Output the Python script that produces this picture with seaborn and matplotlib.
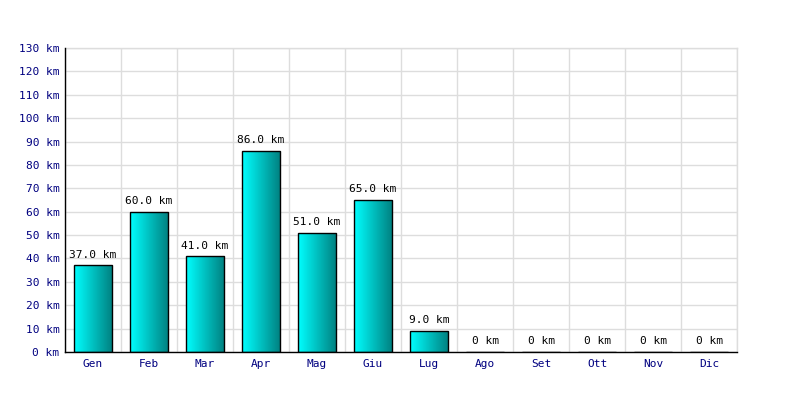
import numpy as np
import pandas as pd
import matplotlib
matplotlib.use("Agg")
import matplotlib.pyplot as plt
import seaborn as sns
from matplotlib.colors import LinearSegmentedColormap

months = ["Gen", "Feb", "Mar", "Apr", "Mag", "Giu", "Lug", "Ago", "Set", "Ott", "Nov", "Dic"]
km = [37.0, 60.0, 41.0, 86.0, 51.0, 65.0, 9.0, 0, 0, 0, 0, 0]
yticks = list(range(0, 131, 10))

sns.set_style("white")
plt.rcParams['font.family'] = ['DejaVu Sans Mono', 'DejaVu Sans']

df = pd.DataFrame({"mese": months, "km": km})

fig = plt.figure(figsize=(8, 4), dpi=100)
ax = fig.add_axes([65/800, 48/400, 672/800, 304/400])

sns.barplot(data=df, x="mese", y="km", ax=ax, width=0.68, color="#00cccc",
            edgecolor="black", linewidth=1.0, zorder=3)

cmap = LinearSegmentedColormap.from_list("cy", ["#00ffff", "#007f7f"])
grad = np.linspace(0, 1, 256).reshape(1, -1)
for p in ax.patches:
    x0, y0 = p.get_x(), p.get_y()
    w, h = p.get_width(), p.get_height()
    if h <= 0:
        continue
    im = ax.imshow(grad, extent=[x0, x0 + w, y0, y0 + h], aspect="auto",
                   cmap=cmap, zorder=3.5, interpolation="bilinear")
    im.set_clip_path(p)
    p.set_facecolor("none")
    p.set_zorder(4)

for p, v in zip(ax.patches, km):
    lab = "0 km" if v == 0 else f"{v:.1f} km"
    ax.annotate(lab, (p.get_x() + p.get_width()/2, p.get_height()),
                xytext=(0, 4), textcoords="offset points", ha="center", va="bottom",
                fontsize=8, color="black", zorder=5)

ax.set_xlim(-0.5, len(months) - 0.5)
ax.set_ylim(0, 130)
ax.set_yticks(yticks)
ax.set_yticklabels([f"{t} km" for t in yticks])
ax.set_xticks(range(len(months)))
ax.set_xticklabels(months)
ax.set_xticks(np.arange(-0.5, len(months), 1), minor=True)
ax.tick_params(axis="both", which="both", length=0, labelsize=8, colors="#000080", pad=4)
ax.tick_params(axis="x", pad=5)

ax.grid(True, axis="y", color="#dddddd", linewidth=1, zorder=0)
ax.grid(True, axis="x", which="minor", color="#dddddd", linewidth=1, zorder=0)
ax.grid(False, axis="x", which="major")
ax.set_axisbelow(True)
ax.set_xlabel("")
ax.set_ylabel("")

for s in ["top", "right"]:
    ax.spines[s].set_color("#dddddd")
    ax.spines[s].set_linewidth(1)
for s in ["left", "bottom"]:
    ax.spines[s].set_color("black")
    ax.spines[s].set_linewidth(1)
    ax.spines[s].set_zorder(6)

fig.savefig("out.png", dpi=100)
